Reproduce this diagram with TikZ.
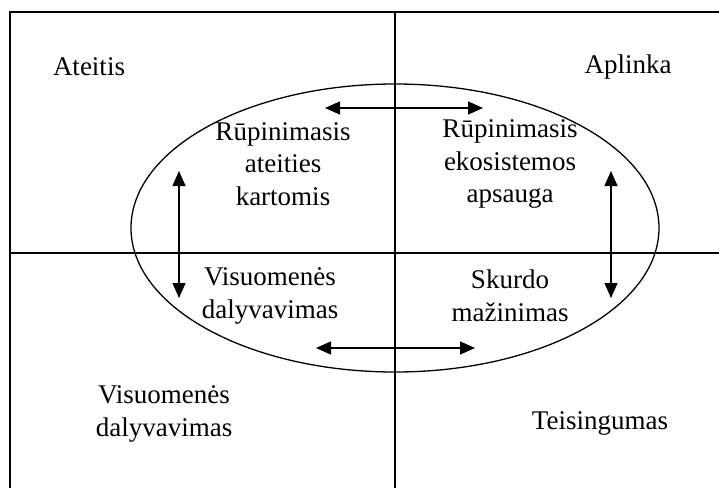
\documentclass[tikz,border=0pt]{standalone}
\usepackage{fontspec}
\setmainfont{Liberation Serif}
\usepackage{tikz}
\usetikzlibrary{arrows.meta,positioning}
\tikzset{lbl/.style={align=center,inner sep=0pt,font=\fontsize{13.5}{16.3}\selectfont},
dbl/.style={line width=0.6pt,{Triangle[length=7.5pt,width=6.5pt]}-{Triangle[length=7.5pt,width=6.5pt]}}}

\begin{document}
\begin{tikzpicture}[x=0.5pt,y=-0.5pt]
		\useasboundingbox (0,0) rectangle (719,488);
		% frame and cross
		\draw[line width=0.75pt] (10,488) -- (10,12) -- (719,12);
		\draw[line width=0.6pt] (395,12) -- (395,488);
		\draw[line width=0.6pt] (10,253) -- (719,253);
		\draw[line width=0.65pt] (395,228) ellipse [x radius=264, y radius=144];
		% corner labels
		\node[lbl] (fut) at (89,67) {Ateitis};
		\node[lbl] (env) at (628,67) {Aplinka};
		\node[lbl] (soc) at (164,414) {Visuomenės\\dalyvavimas};
		\node[lbl] (jus) at (600,423) {Teisingumas};
		% inner labels
		\node[lbl] (gen) at (283,164) {Rūpinimasis\\ateities\\kartomis};
		\node[lbl] (eco) at (510,164) {Rūpinimasis\\ekosistemos\\apsauga};
		\node[lbl] (par) at (270,296) {Visuomenės\\dalyvavimas};
		\node[lbl] (pov) at (510,296) {Skurdo\\mažinimas};
		% arrows
		\coordinate (t1) at (325,108);
		\coordinate (t2) at (483,108);
		\coordinate (b1) at (316,348);
		\coordinate (b2) at (475,348);
		\coordinate (l1) at (179,171);
		\coordinate (l2) at (179,298);
		\coordinate (r1) at (611,171);
		\coordinate (r2) at (611,298);
		\draw[dbl] (t1) -- (t2);
		\draw[dbl] (b1) -- (b2);
		\draw[dbl] (l1) -- (l2);
		\draw[dbl] (r1) -- (r2);
	\end{tikzpicture}
\end{document}
